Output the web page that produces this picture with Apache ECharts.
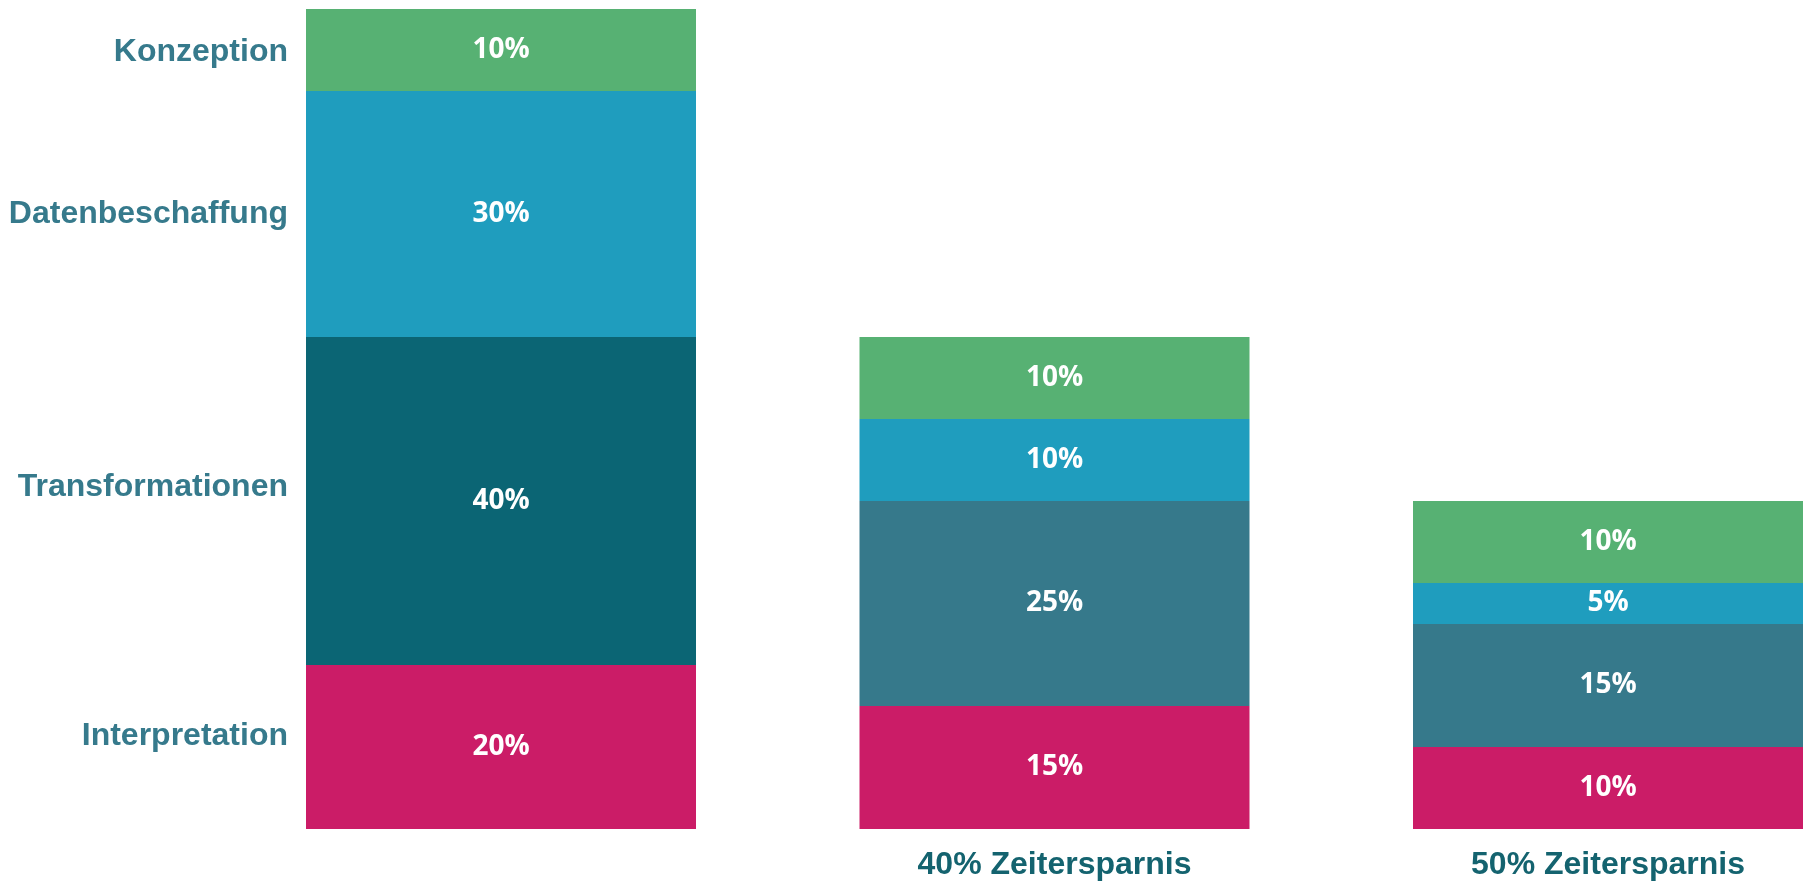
<!DOCTYPE html>
<html>
<head>
<meta charset="utf-8">
<script src="https://cdn.jsdelivr.net/npm/echarts@6/dist/echarts.min.js"></script>
<style>
  html, body { margin: 0; padding: 0; background: #fff; }
  #chart { width: 1806px; height: 888px; }
</style>
</head>
<body>
<div id="chart"></div>
<script>
// values per bar: current process, 40% saving, 50% saving
const categories = ['', '40% Zeitersparnis', '50% Zeitersparnis'];
const phases = ['Konzeption', 'Datenbeschaffung', 'Transformationen', 'Interpretation'];
const konzeption = [10, 10, 10];
const datenbeschaffung = [30, 10, 5];
const transformationen = [40, 25, 15];
const interpretation = [20, 15, 10];

const chart = echarts.init(document.getElementById('chart'));

const valueLabel = {
    show: true,
    position: 'inside',
    color: '#fff',
    fontFamily: 'Open Sans',
    fontWeight: 'bold',
    fontSize: 28,
    formatter: p => p.value + '%'
};

// bottom to top
const layers = [
    { name: phases[3], data: interpretation, color: ['#cb1c67', '#cb1c67', '#cb1c67'], nameOffset: -11 },
    { name: phases[2], data: transformationen, color: ['#0b6574', '#36798b', '#36798b'], nameOffset: -14 },
    { name: phases[1], data: datenbeschaffung, color: ['#1f9dbe', '#1f9dbe', '#1f9dbe'], nameOffset: 0 },
    { name: phases[0], data: konzeption, color: ['#57b173', '#57b173', '#57b173'], nameOffset: 2 }
];

const series = [];
layers.forEach(l => {
    series.push({
        name: l.name,
        type: 'bar',
        stack: 'phases',
        barWidth: 390,
        clip: false,
        silent: true,
        data: l.data.map((v, i) => ({ value: v, itemStyle: { color: l.color[i] } })),
        label: valueLabel
    });
});
// transparent overlay on the first bar that carries the phase names
layers.forEach(l => {
    series.push({
        name: l.name + '_name',
        type: 'bar',
        stack: 'names',
        barWidth: 390,
        barGap: '-100%',
        clip: false,
        silent: true,
        itemStyle: { color: 'rgba(0,0,0,0)' },
        data: l.data.map((v, i) => i === 0 ? v : '-'),
        label: {
            show: true,
            position: 'left',
            distance: 18,
            offset: [0, l.nameOffset],
            color: '#367a8c',
            fontFamily: 'Liberation Sans',
            fontWeight: 'bold',
            fontSize: 32,
            formatter: () => l.name
        }
    });
});

chart.setOption({
    animation: false,
    backgroundColor: '#fff',
    grid: { left: 501, right: 198, top: 9, bottom: 59 },
    xAxis: {
        type: 'category',
        data: categories,
        boundaryGap: false,
        axisLine: { show: false },
        axisTick: { show: false },
        splitLine: { show: false },
        axisLabel: {
            margin: 20,
            color: '#14636f',
            fontFamily: 'Liberation Sans',
            fontWeight: 'bold',
            fontSize: 32
        }
    },
    yAxis: {
        type: 'value',
        min: 0,
        max: 100,
        show: false
    },
    series: series
});
</script>
</body>
</html>
